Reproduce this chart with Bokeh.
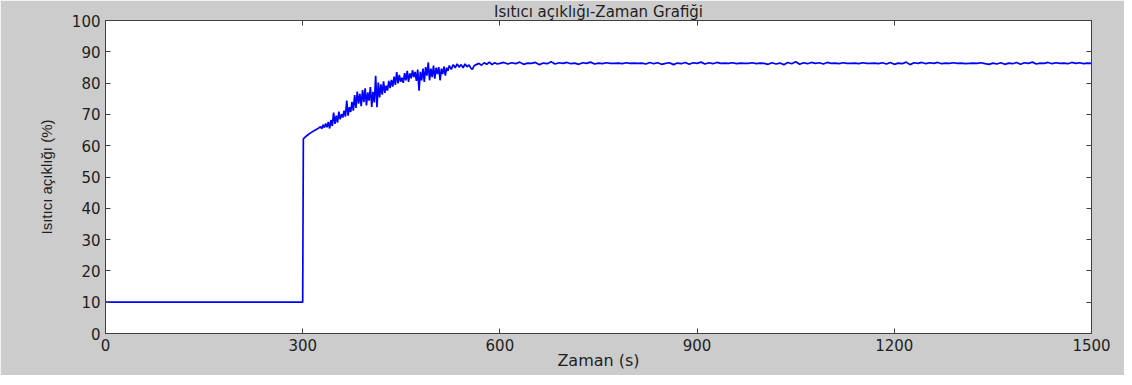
from bokeh.plotting import figure
from bokeh.models import LinearAxis, FixedTicker, Range1d
from bokeh.embed import file_html
from bokeh.resources import INLINE

# ---- data ----
x_ticks = [0, 300, 600, 900, 1200, 1500]
y_ticks = [0, 10, 20, 30, 40, 50, 60, 70, 80, 90, 100]

# before and at the step
t_start = [0, 300, 301]
v_start = [10, 10, 62.2]

# transient (noisy) part
t_trans = [304, 308, 312, 316, 320, 324, 327, 329, 331, 333, 335, 337, 339, 341, 343, 345,
           347, 349, 351, 353, 355, 357, 359, 361, 363, 365, 367, 369, 371, 373, 375, 377,
           379, 381, 383, 385, 387, 389, 391, 393, 395, 397, 399, 401, 403, 405, 407, 409,
           411, 413, 415, 417, 419, 421, 423, 425, 427, 429, 431, 433, 435, 437, 439, 441,
           443, 445, 447, 449, 451, 453, 455, 457, 459, 461, 463, 465, 467, 469, 471, 473,
           475, 477, 479, 481, 483, 485, 487, 489, 491, 493, 495, 497, 499, 501, 503, 505,
           507, 509, 511, 513, 515, 517, 519, 521, 523, 526, 529, 532, 535, 538, 541, 544,
           547, 550, 553, 556, 558, 561, 564, 568, 572, 576, 580, 584, 588, 592, 596]
v_trans = [62.8, 63.5, 64.1, 64.6, 65.1, 65.6, 66.1, 65.4, 66.7, 65.8, 67.1, 65.9, 67.6, 65.5, 68.2, 66.3,
           70.6, 67.0, 69.6, 67.4, 70.9, 68.4, 70.1, 69.0, 71.2, 69.3, 74.4, 69.6, 72.3, 70.8, 74.0, 71.2,
           76.2, 72.1, 77.3, 73.4, 76.6, 72.6, 77.8, 73.9, 78.3, 72.9, 77.0, 74.4, 78.7, 72.4, 77.2, 73.8,
           82.3, 72.3, 80.2, 75.4, 79.6, 76.3, 80.6, 76.9, 79.2, 77.6, 80.7, 78.4, 81.0, 78.9, 82.1, 79.4,
           83.5, 79.9, 82.6, 80.4, 81.7, 80.1, 83.2, 80.9, 83.9, 80.4, 83.1, 81.5, 84.1, 81.9, 83.6, 80.7,
           84.3, 77.6, 83.6, 80.9, 84.6, 80.4, 85.1, 82.4, 86.6, 80.9, 84.6, 81.9, 85.6, 81.4, 84.9, 82.9,
           85.1, 80.9, 84.6, 82.9, 85.3, 82.4, 84.9, 83.9, 85.6, 84.4, 85.9, 84.9, 86.1, 85.1, 85.9, 84.9,
           86.1, 85.2, 85.8, 84.7, 84.4, 85.6, 85.9, 86.3, 85.7, 86.5, 86.0, 86.7, 85.9, 86.5, 86.1]

# steady part, sampled every 6 s from 600 to 1500
t_steady = list(range(600, 1501, 6))
v_steady = [86.3, 86.6, 86.1, 86.5, 86.2, 86.7, 86.0, 86.4, 86.3, 86.6,
            85.9, 86.4, 86.2, 86.8, 86.1, 86.5, 86.3, 86.6, 86.2, 86.4,
            86.0, 86.5, 86.3, 86.7, 86.1, 86.4, 86.2, 86.5, 86.3, 86.3,
            86.4, 86.2, 86.5, 86.3, 86.4, 86.3, 86.4, 86.1, 86.6, 86.2,
            86.5, 86.0, 86.3, 86.5, 85.9, 86.4, 86.2, 86.6, 86.0, 86.5,
            86.3, 86.7, 86.1, 86.5, 86.2, 86.6, 86.3, 86.4, 86.3, 86.5,
            86.2, 86.4, 86.3, 86.3, 86.5, 86.2, 86.4, 86.3, 86.0, 86.5,
            86.1, 86.4, 85.9, 86.6, 86.2, 86.8, 86.0, 86.5, 86.2, 86.6,
            86.3, 86.5, 86.1, 86.6, 86.3, 86.4, 86.2, 86.5, 86.3, 86.3,
            86.4, 86.2, 86.5, 86.3, 86.3, 86.4, 86.2, 86.5, 86.1, 86.6,
            86.0, 86.4, 86.2, 86.7, 85.9, 86.5, 86.3, 86.6, 86.2, 86.5,
            86.3, 86.6, 86.2, 86.4, 86.3, 86.5, 86.3, 86.4, 86.2, 86.3,
            86.4, 86.3, 86.5, 86.2, 86.0, 86.4, 86.1, 86.5, 86.0, 86.4,
            86.2, 86.6, 86.0, 86.5, 86.3, 86.7, 86.1, 86.4, 86.3, 86.6,
            86.2, 86.5, 86.3, 86.4, 86.2, 86.6, 86.3, 86.5, 86.2, 86.4,
            86.3]

t_all = t_start + t_trans + t_steady
v_all = v_start + v_trans + v_steady

TITLE = "Isıtıcı açıklığı-Zaman Grafiği"
XLABEL = "Zaman (s)"
YLABEL = "Isıtıcı açıklığı (%)"

FONT = "DejaVu Sans"
TXT = "#1e1e1e"
AX = "#404040"

p = figure(width=1124, height=375, output_backend="svg", toolbar_location=None,
           x_range=Range1d(0, 1500), y_range=Range1d(0, 100),
           min_border_left=105, min_border_right=33, min_border_top=18, min_border_bottom=42,
           border_fill_color="#cccccc", background_fill_color="white",
           outline_line_color=AX, outline_line_width=1)

p.title.text = TITLE
p.title.align = "center"
p.title.text_font = FONT
p.title.text_font_size = "15px"
p.title.text_font_style = "normal"
p.title.text_color = TXT
p.title.standoff = 0
p.title.offset = 0

p.xgrid.visible = False
p.ygrid.visible = False

def style_axis(ax, labels=True):
    ax.axis_line_color = AX
    ax.major_tick_line_color = AX
    ax.major_tick_in = 5
    ax.major_tick_out = 0
    ax.minor_tick_line_color = None
    ax.major_label_text_font = FONT
    ax.major_label_text_color = TXT
    if labels:
        ax.major_label_text_font_size = "15px"
    else:
        ax.major_label_text_font_size = "1px"
        ax.major_label_text_color = None
        ax.major_label_standoff = 0

xa = p.xaxis[0]
xa.ticker = FixedTicker(ticks=x_ticks)
style_axis(xa)
xa.major_label_standoff = 5
xa.axis_label = XLABEL
xa.axis_label_text_font = FONT
xa.axis_label_text_font_size = "16px"
xa.axis_label_text_font_style = "normal"
xa.axis_label_text_color = TXT
xa.axis_label_standoff = -3

ya = p.yaxis[0]
ya.ticker = FixedTicker(ticks=y_ticks)
style_axis(ya)
ya.major_label_standoff = 5
ya.axis_label = YLABEL
ya.axis_label_text_font = "Liberation Sans"
ya.axis_label_text_font_size = "15px"
ya.axis_label_text_font_style = "normal"
ya.axis_label_text_color = TXT
ya.axis_label_standoff = 14

top = LinearAxis(ticker=FixedTicker(ticks=x_ticks))
style_axis(top, labels=False)
p.add_layout(top, "above")

right = LinearAxis(ticker=FixedTicker(ticks=y_ticks))
style_axis(right, labels=False)
p.add_layout(right, "right")

p.line(t_all, v_all, line_color="#0000ff", line_width=1.7)

open("out.html", "w").write(file_html(p, INLINE))
